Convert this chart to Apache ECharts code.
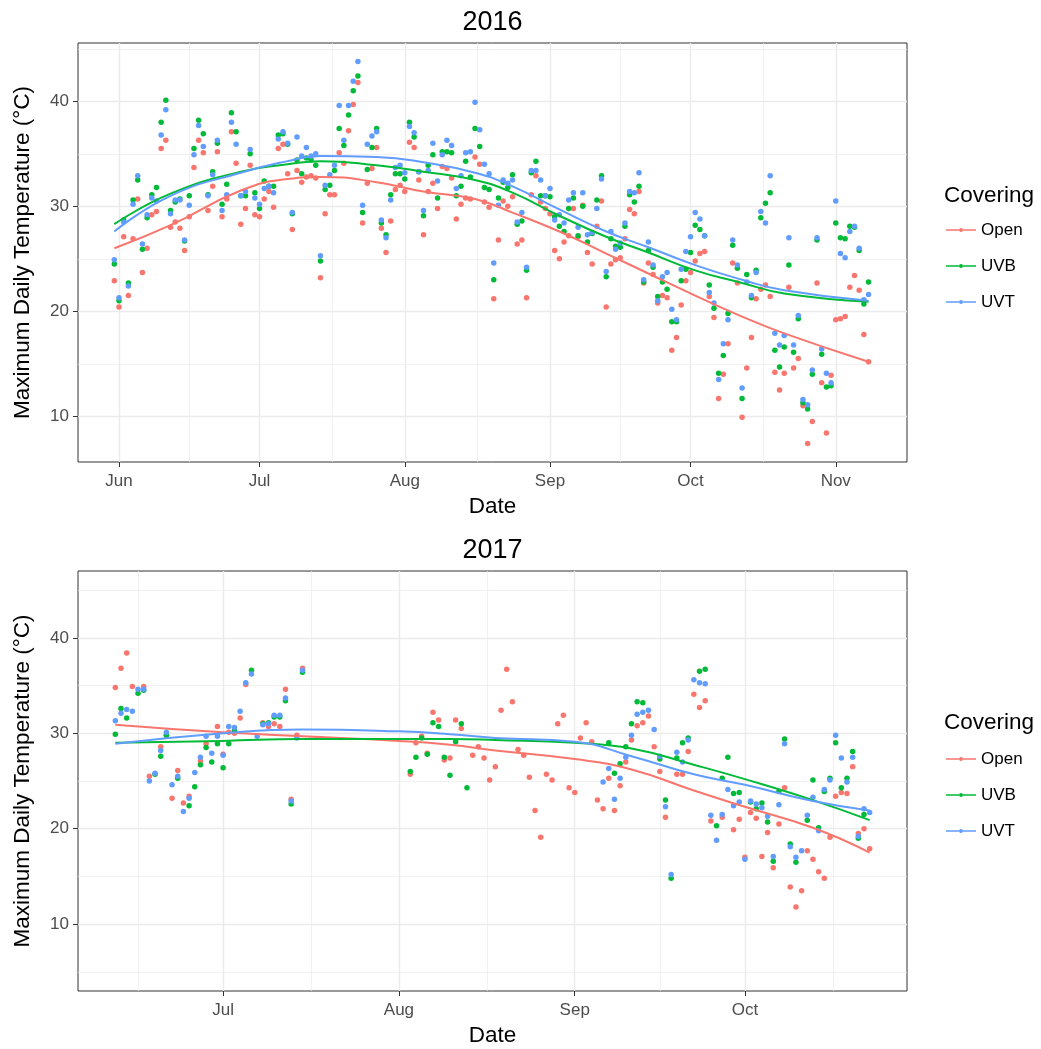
<!DOCTYPE html>
<html>
<head>
<meta charset="utf-8">
<script src="https://cdn.jsdelivr.net/npm/echarts@6/dist/echarts.min.js"></script>
<style>
html, body { margin: 0; padding: 0; background: #ffffff; }
#chart { width: 1041px; height: 1049px; }
</style>
</head>
<body>
<div id="chart"></div>
<script>
// ---- series identity -------------------------------------------------------
const coverings = ['Open', 'UVB', 'UVT'];
const coveringColors = ['#F8766D', '#00BA38', '#619CFF'];

// ---- 2016: one reading per day, starting 31 May ----------------------------
const start2016 = '2016-05-31';
const open2016 = [
  22.9, 20.4, 27.1, 21.5, 26.9, 30.7, 23.7, 26.0, 29.2, 29.5,
  35.5, 36.3, 28.0, 28.5, 27.9, 25.8, 29.0, 33.7, 36.3, 35.1,
  29.6, 31.9, 35.2, 29.0, 30.7, 37.1, 34.1, 28.3, 29.8, 33.9,
  29.2, 29.0, 30.7, 31.4, 29.9, 35.5, 35.9, 33.1, 27.8, 33.4,
  32.3, 32.8, 32.9, 32.7, 23.2, 29.3, 31.1, 31.1, 35.1, 34.1,
  37.2, 39.7, 41.8, 28.4, 32.2, 33.6, 35.6, 27.9, 25.6, 28.6,
  31.6, 32.0, 31.4, 36.1, 35.6, 32.5, 27.3, 31.4, 32.2, 29.8,
  33.8, 33.6, 32.7, 28.8, 30.2, 30.8, 30.7, 34.7, 34.0, 30.4,
  29.9, 21.2, 26.8, 30.5, 30.0, 30.9, 26.4, 26.8, 21.3, 31.1,
  32.9, 30.4, 29.8, 29.3, 25.8, 25.0, 26.6, 27.2, 29.8, 27.1,
  30.1, 25.6, 24.5, 28.1, 30.5, 20.4, 24.5, 24.9, 25.1, 26.9,
  29.7, 29.3, 31.4, 22.7, 24.6, 23.5, 20.8, 21.5, 21.3, 16.3,
  17.5, 20.6, 22.9, 23.7, 24.8, 25.5, 25.7, 21.4, 19.4, 11.7,
  14.0, 16.9, 24.6, 22.7, 9.9, 14.6, 17.5, 21.2, 22.1, 22.5,
  21.4, 14.2, 12.5, 14.1, 22.3, 14.6, 15.5, 11.0, 7.4, 9.5,
  22.7, 13.2, 8.4, 13.9, 19.2, 19.3, 19.5, 22.3, 23.4, 22.0,
  17.8, 15.2
];
const uvb2016 = [
  24.5, 21.0, 28.7, 22.7, 30.6, 32.5, 25.9, 28.9, 31.1, 31.8,
  38.0, 40.1, 29.6, 30.4, 30.7, 26.7, 31.0, 35.5, 38.2, 36.9,
  31.1, 33.3, 36.0, 30.2, 32.1, 38.9, 37.1, 31.0, 31.0, 35.0,
  31.3, 29.8, 32.4, 31.9, 31.9, 36.8, 36.9, 35.9, 29.3, 34.4,
  33.1, 34.6, 34.4, 33.9, 24.8, 31.6, 32.0, 33.4, 37.4, 35.8,
  38.7, 41.0, 42.4, 29.4, 33.5, 35.6, 37.4, 28.4, 27.3, 31.1,
  33.1, 33.1, 32.6, 38.0, 36.6, 33.3, 29.1, 33.9, 34.9, 30.8,
  35.2, 35.2, 35.1, 31.0, 31.9, 34.3, 32.8, 37.4, 35.7, 31.8,
  31.6, 23.0, 30.8, 32.3, 31.8, 33.0, 28.3, 28.6, 23.9, 33.2,
  34.3, 31.0, 31.0, 30.9, 29.0, 28.1, 27.6, 29.8, 30.8, 27.2,
  30.0, 26.6, 27.4, 30.6, 32.9, 23.3, 26.9, 26.2, 26.1, 28.1,
  31.1, 30.4, 31.9, 22.8, 25.8, 24.2, 21.4, 22.8, 22.1, 19.0,
  19.0, 22.9, 24.0, 25.6, 28.2, 27.8, 27.2, 22.5, 20.3, 14.1,
  15.8, 19.8, 26.3, 24.1, 11.7, 23.5, 21.3, 23.9, 28.9, 30.3,
  31.3, 16.3, 14.7, 16.6, 24.4, 16.1, 19.3, 11.3, 10.7, 14.0,
  26.8, 15.9, 12.8, 12.9, 28.4, 27.0, 26.9, 28.1, 28.0, 25.8,
  20.7, 22.8
];
const uvt2016 = [
  24.9, 21.3, 28.5, 22.4, 30.2, 32.9, 26.4, 29.2, 30.8, 30.5,
  36.8, 39.2, 29.3, 30.6, 30.6, 26.8, 30.1, 34.9, 37.7, 35.7,
  31.0, 33.0, 36.3, 29.6, 31.1, 38.0, 35.9, 31.0, 31.4, 35.4,
  30.8, 30.2, 31.7, 31.9, 31.3, 36.4, 37.1, 36.0, 29.4, 36.6,
  34.8, 35.6, 34.8, 35.0, 25.3, 32.0, 33.0, 33.9, 39.6, 36.3,
  39.6, 41.9, 43.8, 30.1, 35.9, 36.7, 37.1, 28.7, 27.0, 30.6,
  33.7, 33.9, 33.2, 37.6, 37.0, 33.3, 29.6, 33.4, 36.0, 32.4,
  34.9, 36.3, 35.8, 31.7, 32.9, 35.1, 35.2, 39.9, 37.3, 34.0,
  33.1, 24.6, 30.1, 32.5, 32.2, 32.5, 28.5, 29.4, 24.2, 33.4,
  33.4, 32.5, 31.0, 31.7, 28.7, 29.2, 28.4, 30.6, 31.3, 28.0,
  31.3, 27.3, 27.5, 29.8, 32.6, 23.8, 27.6, 25.9, 26.5, 28.4,
  31.4, 31.3, 33.2, 23.0, 26.6, 24.4, 21.0, 23.3, 23.7, 20.2,
  19.2, 24.0, 25.7, 27.1, 29.4, 28.8, 27.2, 21.8, 20.8, 13.5,
  16.9, 19.2, 26.8, 24.4, 12.7, 22.8, 21.5, 23.7, 29.5, 28.4,
  32.9, 17.9, 16.8, 17.7, 27.0, 16.8, 19.6, 11.6, 11.1, 14.4,
  27.0, 16.4, 14.1, 13.2, 30.5, 25.5, 25.1, 27.6, 28.1, 26.0,
  21.1, 21.6
];

// smoothed trend per covering, sampled along the season
const trendDates2016 = ['2016-05-31', '2016-06-12', '2016-06-27', '2016-07-07', '2016-07-14', '2016-07-26',
  '2016-08-05', '2016-08-16', '2016-08-24', '2016-09-03', '2016-09-13', '2016-09-22',
  '2016-10-02', '2016-10-12', '2016-10-21', '2016-11-08'];
const trendOpen2016 = [26.0, 28.2, 31.5, 32.6, 32.8, 32.3, 31.4, 30.7, 29.4, 27.6, 25.5, 23.6, 21.5, 19.5, 17.9, 15.2];
const trendUvb2016 = [28.3, 31.2, 33.3, 34.0, 34.3, 33.9, 33.3, 32.5, 31.3, 29.1, 27.1, 25.6, 23.9, 22.7, 21.7, 20.9];
const trendUvt2016 = [27.6, 31.0, 33.2, 34.3, 34.8, 34.7, 34.2, 33.2, 31.9, 29.7, 27.6, 26.1, 24.4, 23.0, 22.0, 21.0];

// ---- 2017: one reading per day, starting 12 June (null = no reading) -------
const start2017 = '2017-06-12';
const open2017 = [
  34.8, 36.8, 38.4, 34.9, null, 34.9, 25.5, null, 28.6, 29.8,
  23.2, 26.1, 22.7, 23.4, null, 27.1, 28.9, null, 30.7, 27.8,
  30.1, 30.0, 31.6, 35.1, null, null, 31.1, 30.7, 31.0, 30.7,
  34.6, 23.1, 29.8, 36.8, null, null, null, null, null, null,
  null, null, null, null, null, null, null, null, null, null,
  null, null, 25.7, 29.0, 29.7, 27.9, 32.2, 31.4, 27.2, 27.4,
  31.4, 30.5, null, 27.7, 28.6, 27.4, 25.1, 26.5, 32.4, 36.7,
  33.3, 28.3, 27.7, 25.4, 21.9, 19.1, 25.7, 25.1, 31.0, 31.9,
  24.3, 23.8, 29.5, 31.1, 29.1, 23.0, 22.1, 25.3, 21.9, 24.5,
  27.0, 29.3, 30.8, 31.1, 31.8, 28.6, 26.0, 21.2, null, 25.7,
  25.7, 28.1, 34.1, 32.7, 33.4, 20.8, null, 21.2, null, 19.9,
  21.0, 17.0, 21.7, 21.1, 17.1, 19.6, 15.9, 20.5, 24.3, 13.9,
  11.8, 13.5, 17.7, 16.8, 15.5, 14.8, 19.1, 23.4, 23.8, 23.7,
  26.5, 19.5, 20.0, 17.9
];
const uvb2017 = [
  29.9, 32.6, 31.6, null, 34.2, 34.5, null, 25.7, 27.6, 29.8,
  null, 25.3, null, 22.4, 24.4, 26.7, 28.5, 27.0, 28.9, 26.4,
  28.9, 30.3, null, null, 36.6, null, 31.0, 31.1, 31.7, 31.7,
  33.4, 22.6, null, 36.4, null, null, null, null, null, null,
  null, null, null, null, null, null, null, null, null, null,
  null, null, 26.0, 27.5, 29.5, 27.8, 31.1, 30.7, 27.5, 25.6,
  29.1, 31.0, 24.3, null, null, null, null, null, null, null,
  null, null, null, null, null, null, null, null, null, null,
  null, null, null, null, null, null, null, 29.0, 25.8, 26.8,
  28.6, 31.0, 33.3, 33.2, null, null, 27.3, 23.0, 14.8, 27.4,
  29.0, 29.5, null, 36.5, 36.7, null, 20.3, 25.3, 27.5, 23.7,
  23.8, null, 22.8, 22.1, 22.7, 20.7, 16.6, 23.9, 29.4, 18.4,
  16.5, null, 20.9, 25.1, 20.1, 23.9, 25.3, 29.0, 24.3, 25.3,
  28.1, 19.0, 21.5, null
];
const uvt2017 = [
  31.3, 32.1, 32.5, 32.3, 34.6, 34.6, 25.0, 25.8, 28.2, 30.1,
  24.6, 25.5, 21.8, 23.2, 25.9, 27.5, 29.7, 27.9, 29.7, 27.7,
  30.7, 30.6, 32.3, 35.3, 36.2, 29.7, 30.9, 31.0, 31.9, 31.9,
  33.7, 22.9, 29.5, 36.6, null, null, null, null, null, null,
  null, null, null, null, null, null, null, null, null, null,
  null, null, null, null, null, null, null, null, null, null,
  null, null, null, null, null, null, null, null, null, null,
  null, null, null, null, null, null, null, null, null, null,
  null, null, null, null, null, null, 24.9, 26.3, 23.1, 25.3,
  27.5, 29.8, 32.0, 32.2, 32.4, 30.4, 27.6, 22.3, 15.2, 28.0,
  27.0, 29.3, 35.6, 35.3, 35.2, 21.4, 18.8, 21.5, 24.1, 22.4,
  22.8, 16.8, 22.9, 22.6, 22.2, 21.3, 17.1, 22.5, 28.9, 18.1,
  17.0, 17.7, 21.4, 23.3, 19.8, 24.1, 25.1, 29.8, 27.4, 24.9,
  27.5, 19.2, 22.1, 21.7
];

const trendDates2017 = ['2017-06-12', '2017-07-01', '2017-07-15', '2017-08-01', '2017-08-10', '2017-08-18',
  '2017-09-01', '2017-09-11', '2017-09-22', '2017-10-01', '2017-10-13', '2017-10-23'];
const trendOpen2017 = [30.9, 30.1, 29.7, 29.2, 28.8, 28.2, 27.3, 26.2, 24.0, 22.3, 20.1, 17.5];
const trendUvb2017 = [29.0, 29.2, 29.4, 29.4, 29.4, 29.3, 29.0, 28.4, 26.7, 25.2, 23.0, 20.9];
const trendUvt2017 = [28.9, 30.0, 30.4, 30.2, 29.9, 29.5, 29.1, 27.6, 25.7, 24.6, 22.9, 21.9];

// ---- axes ------------------------------------------------------------------
const xRange2016 = ['2016-05-23 06:00', '2016-11-16 05:00'];
const xRange2017 = ['2017-06-05 10:00', '2017-10-29 14:00'];
const monthTicks2016 = ['2016-06-01', '2016-07-01', '2016-08-01', '2016-09-01', '2016-10-01', '2016-11-01'];
const monthMinor2016 = ['2016-06-16', '2016-07-16 12:00', '2016-08-16 12:00', '2016-09-16', '2016-10-16 12:00'];
const monthTicks2017 = ['2017-07-01', '2017-08-01', '2017-09-01', '2017-10-01'];
const monthMinor2017 = ['2017-06-16', '2017-07-16 12:00', '2017-08-16 12:00', '2017-09-16', '2017-10-16 12:00'];
const yRange2016 = [5.65, 45.55];
const yRange2017 = [3, 47];
const yTicks = [10, 20, 30, 40];
const yMinor2016 = [15, 25, 35, 45];
const yMinor2017 = [5, 15, 25, 35, 45];
const monthNames = ['Jan', 'Feb', 'Mar', 'Apr', 'May', 'Jun', 'Jul', 'Aug', 'Sep', 'Oct', 'Nov', 'Dec'];

// ---- helpers ---------------------------------------------------------------
// dates are placed on a numeric axis as millisecond timestamps
function toTime(s) {
  const parts = s.split(' ');
  const [y, m, d] = parts[0].split('-').map(Number);
  let h = 0, mi = 0;
  if (parts[1]) { [h, mi] = parts[1].split(':').map(Number); }
  return new Date(y, m - 1, d, h, mi).getTime();
}
function daily(start, values) {
  const [y, m, d] = start.split('-').map(Number);
  const out = [];
  values.forEach((v, i) => {
    if (v !== null) out.push([new Date(y, m - 1, d + i).getTime(), v]);
  });
  return out;
}
function paired(dates, values) {
  return dates.map((t, i) => [toTime(t), values[i]]);
}

const FONT = '"Liberation Sans", Arial, Helvetica, sans-serif';
const TICK_COLOR = '#4D4D4D';
const GRID_COLOR = '#EBEBEB';

function gridLines(xMajor, xMinor, yMajor, yMinor) {
  const major = { color: GRID_COLOR, width: 1.4, type: 'solid' };
  const minor = { color: GRID_COLOR, width: 0.7, type: 'solid' };
  const items = [];
  yMinor.forEach(v => items.push({ yAxis: v, lineStyle: minor }));
  xMinor.forEach(t => items.push({ xAxis: toTime(t), lineStyle: minor }));
  yMajor.forEach(v => items.push({ yAxis: v, lineStyle: major }));
  xMajor.forEach(t => items.push({ xAxis: toTime(t), lineStyle: major }));
  return items;
}

function xAxisFor(idx, range, ticks) {
  const tickValues = ticks.map(toTime);
  return {
    gridIndex: idx, type: 'value',
    min: toTime(range[0]), max: toTime(range[1]),
    axisLine: { show: false },
    axisTick: { show: true, length: 5, lineStyle: { color: '#333333', width: 1 }, customValues: tickValues },
    axisLabel: {
      customValues: tickValues, color: TICK_COLOR, fontSize: 17, fontFamily: FONT, margin: 11,
      formatter: v => monthNames[new Date(v).getMonth()]
    },
    splitLine: { show: false },
    name: 'Date', nameLocation: 'middle', nameGap: 33, nameMoveOverlap: false,
    nameTextStyle: { color: '#000000', fontSize: 22.5, fontFamily: FONT }
  };
}
function yAxisFor(idx, range) {
  return {
    gridIndex: idx, type: 'value', min: range[0], max: range[1],
    axisLine: { show: false },
    axisTick: { show: true, length: 5, lineStyle: { color: '#333333', width: 1 }, customValues: yTicks },
    axisLabel: { customValues: yTicks, color: TICK_COLOR, fontSize: 17, fontFamily: FONT, margin: 9 },
    splitLine: { show: false },
    name: 'Maximum Daily Temperature (°C)', nameLocation: 'middle', nameGap: 44, nameMoveOverlap: false,
    nameTextStyle: { color: '#000000', fontSize: 22.5, fontFamily: FONT }
  };
}

const panels = [
  { start: start2016, values: [open2016, uvb2016, uvt2016],
    trendDates: trendDates2016, trends: [trendOpen2016, trendUvb2016, trendUvt2016],
    lines: gridLines(monthTicks2016, monthMinor2016, yTicks, yMinor2016) },
  { start: start2017, values: [open2017, uvb2017, uvt2017],
    trendDates: trendDates2017, trends: [trendOpen2017, trendUvb2017, trendUvt2017],
    lines: gridLines(monthTicks2017, monthMinor2017, yTicks, yMinor2017) }
];

const series = [];
panels.forEach((p, gi) => {
  // background grid lines, kept beneath the points
  series.push({
    type: 'line', xAxisIndex: gi, yAxisIndex: gi, data: [], silent: true, z: 1,
    markLine: { z: 1, silent: true, symbol: ['none', 'none'], label: { show: false }, animation: false, data: p.lines }
  });
  coverings.forEach((name, k) => {
    series.push({
      name, type: 'scatter', xAxisIndex: gi, yAxisIndex: gi, z: 2 + k * 0.01,
      symbol: 'circle', symbolSize: 5.5,
      itemStyle: { color: coveringColors[k], opacity: 1 },
      data: daily(p.start, p.values[k])
    });
  });
  coverings.forEach((name, k) => {
    series.push({
      name, type: 'line', xAxisIndex: gi, yAxisIndex: gi, z: 3,
      smooth: 0.5, showSymbol: false, symbol: 'none',
      lineStyle: { color: coveringColors[k], width: 2 },
      itemStyle: { color: coveringColors[k] },
      data: paired(p.trendDates, p.trends[k])
    });
  });
});

// legend key: short line with a dot in the middle
const keyIcon = 'path://M0,1.3H13V2.7H0Z M17,1.3H30V2.7H17Z M13,2A2,2 0 1 1 17,2A2,2 0 1 1 13,2Z';
function legendAt(top) {
  return {
    data: coverings.map(n => ({ name: n, icon: keyIcon })),
    orient: 'vertical', left: 946, top, itemWidth: 30, itemHeight: 4, itemGap: 18,
    selectedMode: false, padding: 0,
    textStyle: { color: '#000000', fontSize: 17, lineHeight: 18, fontFamily: FONT }
  };
}
function titleAt(text, left, top, size, align) {
  return {
    text, left, top, textAlign: align, padding: 0,
    textStyle: { color: '#000000', fontSize: size, lineHeight: size + 2, fontWeight: 'normal', fontFamily: FONT }
  };
}

const chart = echarts.init(document.getElementById('chart'), null, { renderer: 'canvas' });
chart.setOption({
  animation: false,
  backgroundColor: '#ffffff',
  title: [
    titleAt('2016', 492.5, 8, 27, 'center'),
    titleAt('2017', 492.5, 536, 27, 'center'),
    titleAt('Covering', 944, 184, 22.5, 'left'),
    titleAt('Covering', 944, 711, 22.5, 'left')
  ],
  legend: [legendAt(221), legendAt(750)],
  grid: [
    { left: 78, top: 43, width: 829, height: 419, show: true, borderColor: '#333333', borderWidth: 1,
      backgroundColor: 'transparent', containLabel: false, outerBoundsMode: 'none' },
    { left: 78, top: 571, width: 829, height: 420, show: true, borderColor: '#333333', borderWidth: 1,
      backgroundColor: 'transparent', containLabel: false, outerBoundsMode: 'none' }
  ],
  xAxis: [xAxisFor(0, xRange2016, monthTicks2016), xAxisFor(1, xRange2017, monthTicks2017)],
  yAxis: [yAxisFor(0, yRange2016), yAxisFor(1, yRange2017)],
  series
});
</script>
</body>
</html>
